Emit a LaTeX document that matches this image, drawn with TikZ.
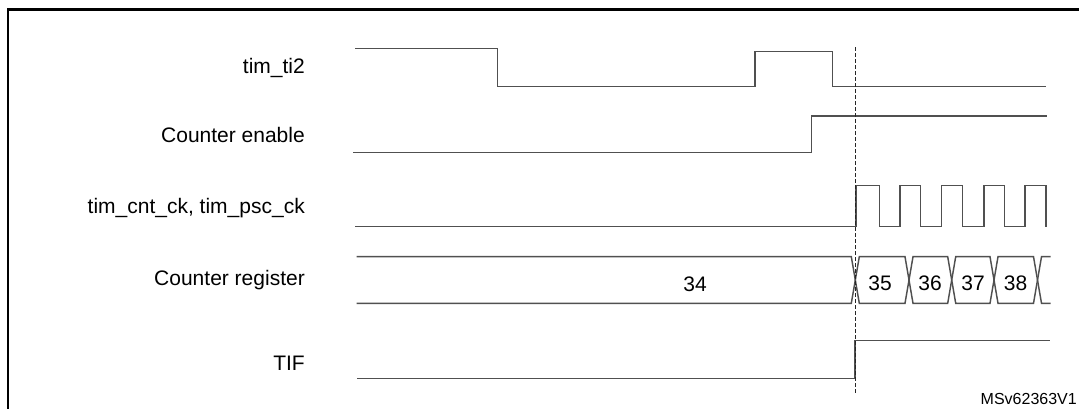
\documentclass[tikz,border=0pt]{standalone}
\usepackage{fontspec}
\setmainfont{Liberation Sans}
\definecolor{wavecol}{HTML}{505050}
\begin{document}
\begin{tikzpicture}[x=1pt,y=-1pt,
  sig/.style={draw=wavecol,line width=1.45pt,line join=miter},
  lbl/.style={anchor=base east,inner sep=0pt,font=\fontsize{21}{25}\selectfont},
  val/.style={anchor=base,inner sep=0pt,font=\fontsize{21}{25}\selectfont},
  refline/.style={draw=black!85,line width=1pt,dash pattern=on 3.5pt off 2.5pt},
  frame/.style={draw=black,line width=2.2pt},
  tag/.style={anchor=base east,inner sep=0pt,font=\fontsize{16}{19}\selectfont}]
\useasboundingbox (0,0) rectangle (1079,408);
\clip (0,0) rectangle (1079,408);
\fill[white] (0,0) rectangle (1079,408);
\draw[frame] (8,9.5) rectangle (1110,440);

% labels
\node[lbl] (l1) at (305,73.3) {tim\_ti2};
\node[lbl] (l2) at (305,142.7) {Counter enable};
\node[lbl] (l3) at (305,213.3) {tim\_cnt\_ck, tim\_psc\_ck};
\node[lbl] (l4) at (305,285) {Counter register};
\node[lbl] (l5) at (305,370.7) {TIF};

% tim_ti2
\draw[sig] (355,48.5) -- (497.5,48.5) -- (497.5,86.5) -- (755,86.5) -- (755,51.5)
  -- (832.5,51.5) -- (832.5,86.5) -- (1046,86.5);

% counter enable
\draw[sig] (353,152.7) -- (811.5,152.7) -- (811.5,116) -- (1046.5,116);

% clock
\draw[sig] (355,226.7) -- (856,226.7) -- (856,185.7) -- (879.3,185.7) -- (879.3,226.7)
  -- (900,226.7) -- (900,185.7) -- (920.5,185.7) -- (920.5,226.7)
  -- (941.7,226.7) -- (941.7,185.7) -- (962.7,185.7) -- (962.7,226.7)
  -- (984,226.7) -- (984,185.7) -- (1004.3,185.7) -- (1004.3,226.7)
  -- (1025,226.7) -- (1025,185.7) -- (1046,185.7) -- (1046,226.7);

% counter register bus
\def\T{256.7}\def\B{303.3}\def\h{4}
\draw[sig] (356.7,\T) -- (855.3-\h,\T) -- (855.3+\h,\B) -- (909-\h,\B) -- (909+\h,\T)
  -- (951.7-\h,\T) -- (951.7+\h,\B) -- (994-\h,\B) -- (994+\h,\T) -- (1037.5-\h,\T)
  -- (1037.5+\h,\B) -- (1050.7,\B);
\draw[sig] (356.7,\B) -- (855.3-\h,\B) -- (855.3+\h,\T) -- (909-\h,\T) -- (909+\h,\B)
  -- (951.7-\h,\B) -- (951.7+\h,\T) -- (994-\h,\T) -- (994+\h,\B) -- (1037.5-\h,\B)
  -- (1037.5+\h,\T) -- (1050.7,\T);
\node[val] (v34) at (695,291.5) {34};
\node[val] (v35) at (880,290) {35};
\node[val] (v36) at (930,290) {36};
\node[val] (v37) at (973,290) {37};
\node[val] (v38) at (1015.5,290) {38};

% TIF
\draw[sig] (357,378.3) -- (855,378.3) -- (855,340.7) -- (1050,340.7);

% reference line
\draw[refline] (855,47) -- (855,393);

\node[tag] (id) at (1077,404) {MSv62363V1};
\end{tikzpicture}
\end{document}
